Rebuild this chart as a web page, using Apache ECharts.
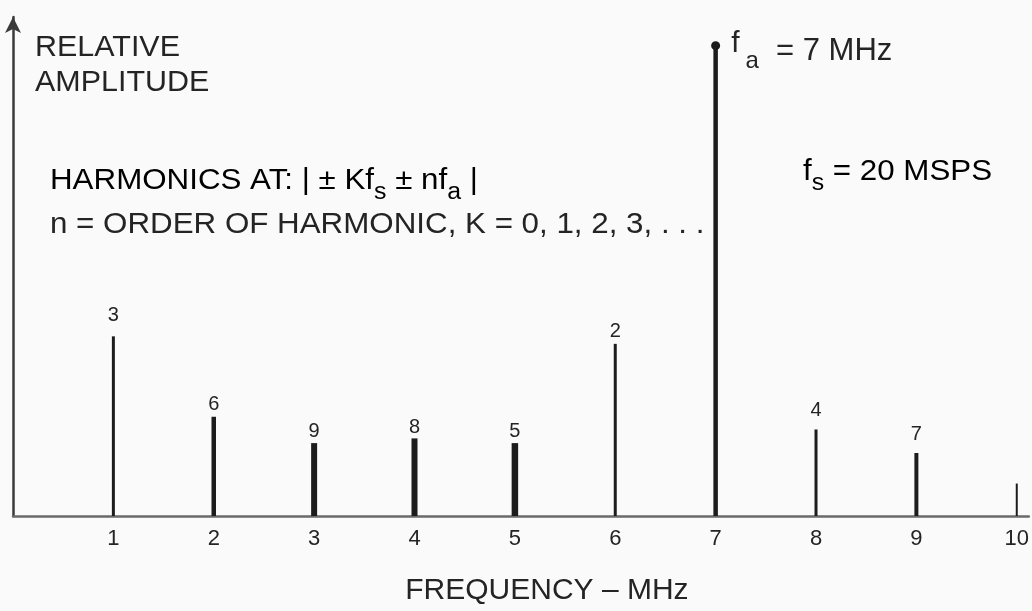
<!DOCTYPE html>
<html>
<head>
<meta charset="utf-8">
<script src="https://cdn.jsdelivr.net/npm/echarts@6/dist/echarts.min.js"></script>
<style>
  html, body { margin: 0; padding: 0; background: #fafafa; }
  #chart { width: 1032px; height: 611px; }
</style>
</head>
<body>
<div id="chart"></div>
<script>
// Output spectrum of a 7 MHz tone sampled at 20 MSPS: harmonics folded into the first Nyquist zone
const freqMHz = [1, 2, 3, 4, 5, 6, 7, 8, 9, 10];
const relAmplitude = [0.382, 0.211, 0.155, 0.165, 0.155, 0.366, 1.0, 0.184, 0.134, 0.069];
const harmonicOrder = ['3', '6', '9', '8', '5', '2', '', '4', '7', ''];
const xTickLabels = ['1', '2', '3', '4', '5', '6', '7', '8', '9', '10'];
const fundamentalMHz = 7;

// drawing styles
const INK = '#1c1c1c';
const TEXT = '#242424';
const FONT = '"Liberation Sans", Arial, Helvetica, sans-serif';
const stemWidths = [3, 4.5, 6, 6, 6.5, 3, 4.5, 3, 4, 2];
const orderLabelGap = [11, 2.5, 1.5, 1.2, 1.5, 2.5, 0, 8.5, 8.5, 0];

const fundIdx = freqMHz.indexOf(fundamentalMHz);

const chart = echarts.init(document.getElementById('chart'), null, { renderer: 'canvas' });

// rich-text pieces: normal text hangs from the line top, subscripts sit on the line bottom
const mainTok = { fontSize: 29, fontFamily: FONT, color: TEXT, lineHeight: 30, verticalAlign: 'top' };
const subTok = { fontSize: 23, fontFamily: FONT, color: TEXT, lineHeight: 38, verticalAlign: 'bottom' };

chart.setOption({
  backgroundColor: '#fafafa',
  animation: false,
  grid: { left: 13, right: 0, top: 17, bottom: 91, containLabel: false },
  xAxis: {
    type: 'value',
    min: 0,
    max: 10.12,
    interval: 1,
    name: 'FREQUENCY \u2013 MHz',
    nameLocation: 'middle',
    nameGap: 60,
    nameTextStyle: { fontSize: 30, fontFamily: FONT, color: TEXT, padding: [0, 0, 0, 52] },
    axisLine: { show: true, onZero: false, lineStyle: { color: '#6a6a6a', width: 2.5 } },
    axisTick: { show: false },
    splitLine: { show: false },
    axisLabel: {
      margin: 12,
      fontSize: 22,
      fontFamily: FONT,
      color: TEXT,
      showMinLabel: false,
      showMaxLabel: false,
      formatter: function (v) {
        const r = Math.round(v);
        return (Math.abs(v - r) < 1e-6 && r >= 1 && r <= xTickLabels.length) ? xTickLabels[r - 1] : '';
      }
    }
  },
  yAxis: {
    type: 'value',
    min: 0,
    max: 1.061,
    axisLine: {
      show: true,
      lineStyle: { color: '#3a3a3a', width: 2.5 },
      symbol: ['none', 'arrow'],
      symbolSize: [12, 16]
    },
    axisTick: { show: false },
    axisLabel: { show: false },
    splitLine: { show: false }
  },
  series: [
    {
      // spectral lines
      type: 'custom',
      coordinateSystem: 'cartesian2d',
      encode: { x: 0, y: 1 },
      data: freqMHz.map((f, i) => [f, relAmplitude[i]]),
      renderItem: function (params, api) {
        const p0 = api.coord([api.value(0), 0]);
        const p1 = api.coord([api.value(0), api.value(1)]);
        return {
          type: 'line',
          shape: { x1: p0[0], y1: p0[1], x2: p1[0], y2: p1[1] },
          style: { stroke: INK, lineWidth: stemWidths[params.dataIndex] }
        };
      },
      z: 3
    },
    {
      // harmonic order numbers above each line
      type: 'scatter',
      symbolSize: 0,
      silent: true,
      itemStyle: { opacity: 1 },
      data: freqMHz.map((f, i) => ({
        value: [f, relAmplitude[i]],
        label: { distance: orderLabelGap[i] }
      })),
      label: {
        show: true,
        position: 'top',
        fontSize: 20,
        fontFamily: FONT,
        color: TEXT,
        formatter: p => harmonicOrder[p.dataIndex]
      },
      z: 4
    },
    {
      // fundamental marker
      type: 'scatter',
      symbol: 'circle',
      symbolSize: 9,
      silent: true,
      itemStyle: { color: INK, opacity: 1 },
      data: [[freqMHz[fundIdx], relAmplitude[fundIdx]]],
      label: {
        show: true,
        position: 'right',
        distance: 11,
        offset: [0, 5.5],
        color: TEXT,
        formatter: '{f|f}{a|a}{t|  = 7 MHz}',
        rich: {
          f: { fontSize: 30, fontFamily: FONT, color: TEXT, lineHeight: 30, verticalAlign: 'top' },
          a: { fontSize: 24, fontFamily: FONT, color: TEXT, lineHeight: 44, verticalAlign: 'bottom', padding: [0, 0, 0, 6] },
          t: { fontSize: 31, fontFamily: FONT, color: TEXT, lineHeight: 30, verticalAlign: 'bottom', padding: [0, 0, 6, 0] }
        }
      },
      z: 5
    }
  ],
  graphic: [
    {
      type: 'text', x: 35, y: 30.5, scaleX: 1.05,
      style: { text: 'RELATIVE\nAMPLITUDE', font: '29px ' + FONT, fill: TEXT, lineHeight: 35 }
    },
    {
      type: 'text', x: 50, y: 166.5, scaleX: 1.08,
      style: {
        text: '{m|HARMONICS AT: | \u00b1 Kf}{s|s}{m| \u00b1 nf}{s|a}{m| |}',
        rich: { m: mainTok, s: subTok }
      }
    },
    {
      type: 'text', x: 50, y: 210, scaleX: 1.08,
      style: {
        text: 'n = ORDER OF HARMONIC, K = 0, 1, 2, 3, . . .',
        font: '29px ' + FONT, fill: TEXT, lineHeight: 30
      }
    },
    {
      type: 'text', x: 803, y: 157, scaleX: 1.08,
      style: {
        text: '{m|f}{s|s}{m| = 20 MSPS}',
        rich: { m: mainTok, s: subTok }
      }
    }
  ]
});
</script>
</body>
</html>
